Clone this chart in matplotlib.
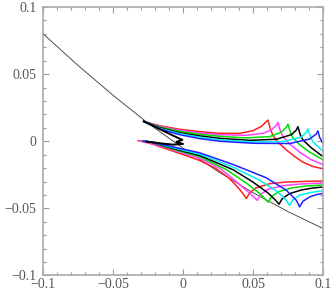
import matplotlib
matplotlib.use('Agg')
import matplotlib.pyplot as plt
from matplotlib.ticker import MultipleLocator, FuncFormatter

plt.rcParams['font.family'] = ['Liberation Serif', 'DejaVu Serif']

# thin reference line
line_x = [-0.1, -0.075, -0.05, -0.025, 0.0, 0.025, 0.05, 0.075, 0.1]
line_y = [0.080, 0.0564, 0.0342, 0.0134, -0.0052, -0.0225, -0.0383, -0.0524, -0.065]

# upper arms (left cusp -> top cusp -> right edge)
red_up_x = [-0.0281, -0.0167, -0.0024, 0.0119, 0.0262, 0.0405, 0.0500, 0.0560, 0.0590, 0.0607,
            0.0624, 0.0643, 0.0679, 0.0738, 0.0798, 0.0857, 0.0929, 0.1000]
red_up_y = [0.0148, 0.0116, 0.0089, 0.0072, 0.0059, 0.0059, 0.0079, 0.0111, 0.0141, 0.0158,
            0.0091, 0.0042, -0.0007, -0.0064, -0.0114, -0.0156, -0.0188, -0.0205]
mag_up_x = [-0.0281, -0.0167, -0.0024, 0.0119, 0.0262, 0.0452, 0.0571, 0.0631, 0.0667, 0.0679,
            0.0695, 0.0714, 0.0762, 0.0833, 0.0917, 0.1000]
mag_up_y = [0.0148, 0.0111, 0.0081, 0.0062, 0.0049, 0.0044, 0.0059, 0.0084, 0.0119, 0.0141,
            0.0079, 0.0035, -0.0020, -0.0081, -0.0138, -0.0173]
grn_up_x = [-0.0281, -0.0167, -0.0024, 0.0119, 0.0262, 0.0452, 0.0619, 0.0702, 0.0738, 0.0750,
            0.0767, 0.0786, 0.0833, 0.0905, 0.1000]
grn_up_y = [0.0148, 0.0106, 0.0074, 0.0052, 0.0037, 0.0025, 0.0035, 0.0067, 0.0104, 0.0128,
            0.0067, 0.0025, -0.0025, -0.0081, -0.0138]
blk_up_x = [-0.0281, -0.0167, -0.0024, 0.0119, 0.0262, 0.0476, 0.0667, 0.0774, 0.0810, 0.0821,
            0.0838, 0.0857, 0.0917, 0.1000]
blk_up_y = [0.0148, 0.0101, 0.0064, 0.0040, 0.0022, 0.0007, 0.0015, 0.0049, 0.0084, 0.0109,
            0.0049, 0.0010, -0.0049, -0.0114]
cyn_up_x = [-0.0281, -0.0167, -0.0024, 0.0119, 0.0262, 0.0500, 0.0714, 0.0845, 0.0881, 0.0893,
            0.0910, 0.0929, 0.1000]
cyn_up_y = [0.0148, 0.0096, 0.0057, 0.0030, 0.0010, -0.0005, -0.0002, 0.0030, 0.0067, 0.0091,
            0.0035, -0.0005, -0.0074]
blu_up_x = [-0.0281, -0.0167, -0.0024, 0.0119, 0.0262, 0.0500, 0.0762, 0.0905, 0.0952, 0.0964,
            0.0976, 0.1000]
blu_up_y = [0.0148, 0.0091, 0.0049, 0.0020, 0.0, -0.0015, -0.0017, 0.0017, 0.0054, 0.0077,
            0.0030, -0.0015]

# lower arms (left cusp -> bottom cusp -> right edge)
red_lo_x = [-0.0321, -0.0238, -0.0119, 0.0, 0.0119, 0.0238, 0.0333, 0.0400, 0.0436, 0.0452,
            0.0476, 0.0524, 0.0619, 0.0738, 0.0881, 0.1000]
red_lo_y = [0.0005, -0.0015, -0.0057, -0.0099, -0.0143, -0.0205, -0.0279, -0.0353, -0.0402, -0.0427,
            -0.0385, -0.0346, -0.0316, -0.0304, -0.0299, -0.0296]
mag_lo_x = [-0.0310, -0.0238, -0.0119, 0.0, 0.0119, 0.0262, 0.0369, 0.0452, 0.0505, 0.0531,
            0.0555, 0.0607, 0.0714, 0.0833, 0.1000]
mag_lo_y = [0.0002, -0.0012, -0.0049, -0.0089, -0.0126, -0.0200, -0.0291, -0.0365, -0.0415, -0.0440,
            -0.0395, -0.0358, -0.0331, -0.0319, -0.0311]
grn_lo_x = [-0.0286, -0.0214, -0.0119, 0.0, 0.0119, 0.0310, 0.0452, 0.0548, 0.0590, 0.0610,
            0.0633, 0.0690, 0.0786, 0.0881, 0.1000]
grn_lo_y = [0.0002, -0.0010, -0.0044, -0.0081, -0.0114, -0.0212, -0.0311, -0.0390, -0.0435, -0.0454,
            -0.0410, -0.0373, -0.0346, -0.0333, -0.0326]
blk_lo_x = [-0.0286, -0.0214, -0.0119, 0.0, 0.0119, 0.0357, 0.0500, 0.0607, 0.0662, 0.0686,
            0.0710, 0.0762, 0.0845, 0.0929, 0.1000]
blk_lo_y = [0.0002, -0.0010, -0.0040, -0.0074, -0.0106, -0.0212, -0.0304, -0.0385, -0.0440, -0.0469,
            -0.0427, -0.0390, -0.0363, -0.0348, -0.0341]
cyn_lo_x = [-0.0286, -0.0214, -0.0119, 0.0, 0.0119, 0.0357, 0.0548, 0.0679, 0.0738, 0.0762,
            0.0786, 0.0833, 0.0905, 0.1000]
cyn_lo_y = [0.0002, -0.0007, -0.0035, -0.0067, -0.0096, -0.0193, -0.0291, -0.0378, -0.0440, -0.0477,
            -0.0435, -0.0402, -0.0383, -0.0368]
blu_lo_x = [-0.0286, -0.0214, -0.0119, 0.0, 0.0119, 0.0357, 0.0595, 0.0738, 0.0810, 0.0833,
            0.0857, 0.0905, 0.0952, 0.1000]
blu_lo_y = [0.0002, -0.0007, -0.0030, -0.0059, -0.0086, -0.0173, -0.0272, -0.0365, -0.0440, -0.0489,
            -0.0447, -0.0415, -0.0398, -0.0388]

# small black fold joining the two left cusps
blk_fold_x = [-0.0281, -0.0167, -0.0071, -0.0005, -0.0048, 0.0, -0.0071, -0.0167, -0.0262]
blk_fold_y = [0.0148, 0.0091, 0.0042, 0.0010, -0.0005, -0.0020, -0.0025, -0.0015, -0.0002]

curves = [
    ('#ff2020', red_up_x, red_up_y, red_lo_x, red_lo_y),
    ('#ff40ff', mag_up_x, mag_up_y, mag_lo_x, mag_lo_y),
    ('#00e000', grn_up_x, grn_up_y, grn_lo_x, grn_lo_y),
    ('#000000', blk_up_x, blk_up_y, blk_lo_x, blk_lo_y),
    ('#00f0f0', cyn_up_x, cyn_up_y, cyn_lo_x, cyn_lo_y),
    ('#2020ff', blu_up_x, blu_up_y, blu_lo_x, blu_lo_y),
]

fig = plt.figure(figsize=(3.35, 2.94), dpi=100)
ax = fig.add_axes([0.129, 0.063, 0.835, 0.913])

ax.plot(line_x, line_y, color='#333333', lw=0.6)
for col, ux, uy, lx, ly in curves:
    ax.plot(ux, uy, color=col, lw=1.1)
    ax.plot(lx, ly, color=col, lw=1.1)
ax.plot(blk_fold_x, blk_fold_y, color='black', lw=1.4)

ax.set_xlim(-0.1, 0.1)
ax.set_ylim(-0.1, 0.1)
ax.xaxis.set_major_locator(MultipleLocator(0.05))
ax.yaxis.set_major_locator(MultipleLocator(0.05))
ax.xaxis.set_minor_locator(MultipleLocator(0.01))
ax.yaxis.set_minor_locator(MultipleLocator(0.01))

fmt = FuncFormatter(lambda v, p: '0' if abs(v) < 1e-9 else ('%g' % v).replace('-', '\u2212'))
ax.xaxis.set_major_formatter(fmt)
ax.yaxis.set_major_formatter(fmt)

ax.tick_params(which='both', direction='in', top=True, right=True, colors='#999999',
               labelcolor='#555555', labelsize=10)
ax.tick_params(which='major', length=4.5, width=0.8)
ax.tick_params(which='minor', length=2.2, width=0.8)
ax.tick_params(axis='y', pad=5)
ax.tick_params(axis='x', pad=2)
for s in ax.spines.values():
    s.set_color('#aaaaaa')
    s.set_linewidth(1.2)

plt.savefig('out.png', dpi=100)
